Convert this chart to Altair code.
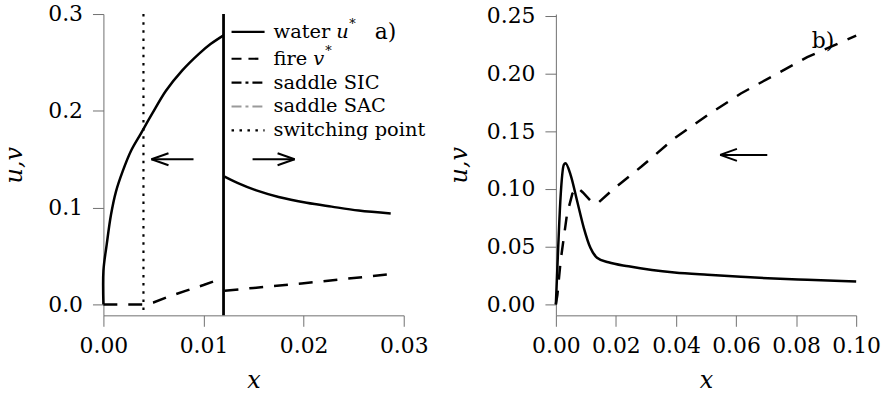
import altair as alt
import pandas as pd

FONT = "DejaVu Serif"

# ---------------- panel a) ----------------
a_water_left_x = [0.0, 0.0, 0.00033, 0.00076, 0.00126, 0.00192, 0.00275, 0.00374,
                  0.0049, 0.00623, 0.00788, 0.00954, 0.0107, 0.0120]
a_water_left_y = [0.0, 0.0346, 0.062, 0.0928, 0.1168, 0.1374, 0.1585, 0.1765,
                  0.1975, 0.2205, 0.2418, 0.2589, 0.2690, 0.2780]
a_water_right_x = [0.0121, 0.0135, 0.0152, 0.0175, 0.0203, 0.0228, 0.0255, 0.0287]
a_water_right_y = [0.132, 0.125, 0.118, 0.111, 0.105, 0.101, 0.097, 0.094]
a_fire_left_x = [0.0, 0.0040, 0.0050, 0.0065, 0.0082, 0.0100, 0.0119]
a_fire_left_y = [0.0, 0.0, 0.002, 0.008, 0.014, 0.020, 0.027]
a_fire_right_x = [0.0121, 0.0150, 0.0198, 0.0240, 0.0287]
a_fire_right_y = [0.0141, 0.0170, 0.0216, 0.0262, 0.0312]
a_saddle_x = [0.012]
a_switch_x = [0.004]
a_arrow_y = [0.15, 0.15]
a_arrow_tail = [0.0090, 0.0149]
a_arrow_tip = [0.0048, 0.0191]
a_x_ticks = [0.0, 0.01, 0.02, 0.03]
a_y_ticks = [0.0, 0.1, 0.2, 0.3]
a_x_domain = [0.0, 0.03]
a_y_domain = [-0.0113, 0.3]

# ---------------- panel b) ----------------
b_water_x = [0.0, 0.00077, 0.00155, 0.00265, 0.0032, 0.0049, 0.0071, 0.0093, 0.0115,
             0.0137, 0.0175, 0.0242, 0.0320, 0.0395, 0.0505, 0.0616, 0.0726, 0.0837, 0.1000]
b_water_y = [0.0, 0.049, 0.0922, 0.121, 0.1224, 0.1123, 0.0894, 0.0664, 0.049,
             0.0405, 0.0365, 0.0330, 0.0298, 0.0276, 0.0256, 0.0239, 0.0224, 0.0213, 0.0198]
b_fire_x = [0.0, 0.0005, 0.0016, 0.0037, 0.0055, 0.0071, 0.0090, 0.0115, 0.0137,
            0.0196, 0.0285, 0.0395, 0.0505, 0.0616, 0.0726, 0.0837, 0.1000]
b_fire_y = [0.0, 0.008, 0.038, 0.078, 0.096, 0.1015, 0.097, 0.090, 0.0872,
            0.1009, 0.1195, 0.1440, 0.1640, 0.1828, 0.1985, 0.2144, 0.2330]
b_arrow_y = [0.1296]
b_arrow_tail = [0.0704]
b_arrow_tip = [0.0547]
b_x_ticks = [0.0, 0.02, 0.04, 0.06, 0.08, 0.10]
b_y_ticks = [0.0, 0.05, 0.10, 0.15, 0.20, 0.25]
b_x_domain = [0.0, 0.1]
b_y_domain = [-0.0095, 0.2517]

# ---------------- legend (panel a) ----------------
legend_labels = ["water", "fire", "saddle SIC", "saddle SAC", "switching point"]
legend_colors = ["black", "black", "black", "#9a9a9a", "black"]
legend_dash = [[1, 0], [10, 7], [10, 4, 3, 4], [10, 4, 3, 4], [2.5, 5.5]]
legend_y = [0.2815, 0.2538, 0.2291, 0.2045, 0.1798]
legend_line_x = [0.0128, 0.0161]
legend_text_x = 0.0170

PW, PH = 302, 303
LEG_FS = 19.5


def curve(xs, ys, seg):
    return pd.DataFrame({"x": xs, "y": ys, "seg": seg, "i": range(len(xs))})


def arrows(tails, tips, ys, hx, hy):
    rows = []
    for t, p, y in zip(tails, tips, ys):
        d = 1 if p > t else -1
        rows.append({"x": t, "x2": p, "y": y, "y2": y})
        rows.append({"x": p, "x2": p - d * hx, "y": y, "y2": y + hy})
        rows.append({"x": p, "x2": p - d * hx, "y": y, "y2": y - hy})
    return pd.DataFrame(rows)


def scales(xd, yd, xt, yt, xf, yf, ytp):
    X = alt.X("x:Q", scale=alt.Scale(domain=xd, nice=False, zero=False),
              axis=alt.Axis(values=xt, format=xf, title="x", labelPadding=9,
                            titlePadding=13, labelFlush=False, labelOverlap=False))
    Y = alt.Y("y:Q", scale=alt.Scale(domain=yd, nice=False, zero=False),
              axis=alt.Axis(values=yt, format=yf, title="u,v", labelPadding=10,
                            titlePadding=ytp, labelOverlap=False))
    return X, Y


# ---------- panel a ----------
Xa, Ya = scales(a_x_domain, a_y_domain, a_x_ticks, a_y_ticks, ".2f", ".1f", 21)

wa = pd.concat([curve(a_water_left_x, a_water_left_y, "l"),
                curve(a_water_right_x, a_water_right_y, "r")])
fa = pd.concat([curve(a_fire_left_x, a_fire_left_y, "l"),
                curve(a_fire_right_x, a_fire_right_y, "r")])

water_a = alt.Chart(wa).mark_line(color="black", strokeWidth=2.5, interpolate="catmull-rom").encode(
    x=Xa, y=Ya, detail="seg:N", order="i:Q")
fire_a = alt.Chart(fa).mark_line(color="black", strokeWidth=2.5, strokeDash=[14, 11]).encode(
    x=Xa, y=Ya, detail="seg:N", order="i:Q")
saddle_a = alt.Chart(pd.DataFrame({"x": a_saddle_x})).mark_rule(
    color="black", strokeWidth=2.8).encode(x=Xa)
switch_a = alt.Chart(pd.DataFrame({"x": a_switch_x})).mark_rule(
    color="black", strokeWidth=2.2, strokeDash=[2.5, 5.7]).encode(x=Xa)
arr_a = alt.Chart(arrows(a_arrow_tail, a_arrow_tip, a_arrow_y, 0.0017, 0.0062)).mark_rule(
    color="black", strokeWidth=2).encode(x=Xa, x2="x2:Q", y=Ya, y2="y2:Q")

leg_df = pd.DataFrame({"label": legend_labels, "x": legend_line_x[0],
                       "x2": legend_line_x[1], "y": legend_y, "tx": legend_text_x})
leg_lines = alt.Chart(leg_df).mark_rule(strokeWidth=2.2).encode(
    x=Xa, x2="x2:Q", y=Ya,
    color=alt.Color("label:N", scale=alt.Scale(domain=legend_labels, range=legend_colors), legend=None),
    strokeDash=alt.StrokeDash("label:N", scale=alt.Scale(domain=legend_labels, range=legend_dash),
                              legend=None))
leg_text = alt.Chart(leg_df).mark_text(align="left", baseline="middle", font=FONT,
                                       fontSize=LEG_FS, color="black").encode(
    x=alt.X("tx:Q", scale=alt.Scale(domain=a_x_domain, nice=False, zero=False)), y=Ya, text="label:N")
math_df = pd.DataFrame({"tx": [legend_text_x, legend_text_x], "y": legend_y[:2],
                        "m": ["u", "v"]})
math_u = alt.Chart(math_df.iloc[[0]]).mark_text(align="left", baseline="middle", font=FONT,
                                                fontSize=LEG_FS, fontStyle="italic", dx=63,
                                                color="black").encode(x="tx:Q", y=Ya, text="m:N")
math_v = alt.Chart(math_df.iloc[[1]]).mark_text(align="left", baseline="middle", font=FONT,
                                                fontSize=LEG_FS, fontStyle="italic", dx=40,
                                                color="black").encode(x="tx:Q", y=Ya, text="m:N")
star_df = pd.DataFrame({"tx": [legend_text_x], "y": [legend_y[0]], "s": ["*"]})
star_u = alt.Chart(star_df).mark_text(align="left", baseline="middle", font=FONT, fontSize=13,
                                      dx=76, dy=-8, color="black").encode(x="tx:Q", y=Ya, text="s:N")
star_v = alt.Chart(pd.DataFrame({"tx": [legend_text_x], "y": [legend_y[1]], "s": ["*"]})).mark_text(
    align="left", baseline="middle", font=FONT, fontSize=13, dx=52, dy=-8,
    color="black").encode(x="tx:Q", y=Ya, text="s:N")
tag_a = alt.Chart(pd.DataFrame({"x": [0.0271], "y": [0.2815], "t": ["a)"]})).mark_text(
    align="left", baseline="middle", font=FONT, fontSize=22, color="black").encode(
    x=Xa, y=Ya, text="t:N")

panel_a = alt.layer(switch_a, fire_a, water_a, saddle_a, arr_a, leg_lines, leg_text,
                    math_u, math_v, star_u, star_v, tag_a).properties(width=PW, height=PH)

# ---------- panel b ----------
Xb, Yb = scales(b_x_domain, b_y_domain, b_x_ticks, b_y_ticks, ".2f", ".2f", 15)
water_b = alt.Chart(curve(b_water_x, b_water_y, "a")).mark_line(
    color="black", strokeWidth=2.5, interpolate="monotone").encode(x=Xb, y=Yb, order="i:Q")
fire_b = alt.Chart(curve(b_fire_x, b_fire_y, "a")).mark_line(
    color="black", strokeWidth=2.5, strokeDash=[14, 11]).encode(x=Xb, y=Yb, order="i:Q")
arr_b = alt.Chart(arrows(b_arrow_tail, b_arrow_tip, b_arrow_y, 0.0056, 0.0052)).mark_rule(
    color="black", strokeWidth=2).encode(x=Xb, x2="x2:Q", y=Yb, y2="y2:Q")
tag_b = alt.Chart(pd.DataFrame({"x": [0.0852], "y": [0.2224], "t": ["b)"]})).mark_text(
    align="left", baseline="alphabetic", font=FONT, fontSize=22, color="black").encode(
    x=Xb, y=Yb, text="t:N")
panel_b = alt.layer(fire_b, water_b, arr_b, tag_b).properties(width=PW, height=PH)

chart = alt.hconcat(panel_a, panel_b, spacing=19).resolve_scale(
    color="independent", strokeDash="independent"
).configure_view(strokeWidth=0).configure_axis(
    grid=False, domainColor="#707070", tickColor="#707070", tickSize=11,
    domainWidth=1, tickWidth=1, labelFont=FONT, labelFontSize=22, labelColor="black",
    titleFont=FONT, titleFontSize=24, titleFontStyle="italic", titleFontWeight="normal",
    titleColor="black"
).properties(padding={"left": 3, "top": 2, "right": 5, "bottom": 2}, background="white")

chart.save("out.html", embed_options={"renderer": "svg", "actions": False})
